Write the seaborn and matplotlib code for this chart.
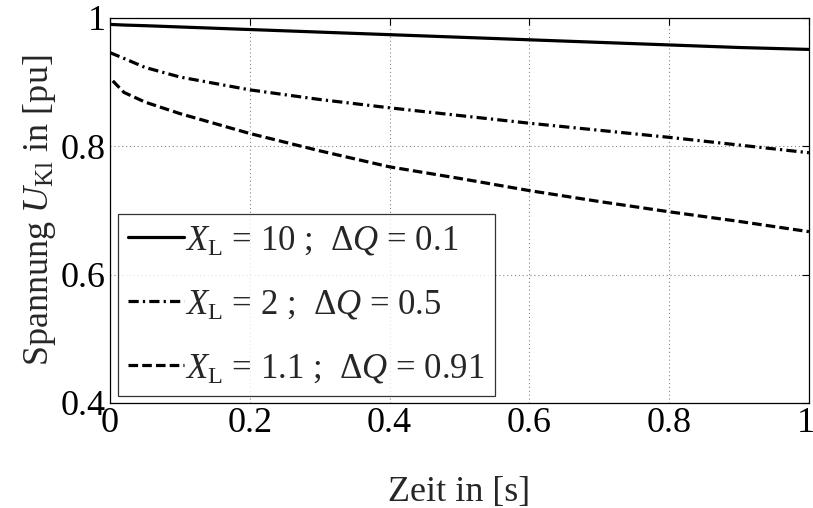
import numpy as np
import pandas as pd
import matplotlib
matplotlib.use("Agg")
import matplotlib.pyplot as plt
import matplotlib.transforms as mtransforms
import seaborn as sns

# ---- data ----
t_main = [0.0, 0.02, 0.05, 0.1, 0.2, 0.3, 0.4, 0.5, 0.6, 0.7, 0.8, 0.9, 1.0]
u_x10 = [0.990, 0.989, 0.988, 0.986, 0.982, 0.978, 0.974, 0.970, 0.966, 0.962, 0.958, 0.954, 0.951]
u_x2 = [0.946, 0.937, 0.923, 0.908, 0.888, 0.873, 0.860, 0.848, 0.836, 0.825, 0.814, 0.802, 0.790]
t_x11 = [0.004, 0.02, 0.05, 0.1, 0.2, 0.3, 0.4, 0.5, 0.6, 0.7, 0.8, 0.9, 1.0]
u_x11 = [0.902, 0.884, 0.869, 0.851, 0.820, 0.793, 0.768, 0.750, 0.731, 0.714, 0.698, 0.683, 0.667]

labels = [r"$X_{\mathrm{L}}$ = 10 ;  $\Delta Q$ = 0.1",
          r"$X_{\mathrm{L}}$ = 2 ;  $\Delta Q$ = 0.5",
          r"$X_{\mathrm{L}}$ = 1.1 ;  $\Delta Q$ = 0.91"]
x_ticks = [0, 0.2, 0.4, 0.6, 0.8, 1]
x_ticklabels = ["0", "0.2", "0.4", "0.6", "0.8", "1"]
y_ticks = [0.4, 0.6, 0.8, 1.0]
y_ticklabels = ["0.4", "0.6", "0.8", "1"]

df = pd.concat([
    pd.DataFrame({"t": t_main, "u": u_x10, "case": labels[0]}),
    pd.DataFrame({"t": t_main, "u": u_x2, "case": labels[1]}),
    pd.DataFrame({"t": t_x11, "u": u_x11, "case": labels[2]}),
], ignore_index=True)

sns.set_style("white")
plt.rcParams["font.family"] = ["Liberation Serif", "DejaVu Serif"]
plt.rcParams["mathtext.fontset"] = "custom"
plt.rcParams["mathtext.rm"] = "Liberation Serif"
plt.rcParams["mathtext.it"] = "Liberation Serif:italic"
plt.rcParams["mathtext.bf"] = "Liberation Serif:bold"

fig = plt.figure(figsize=(8.13, 5.08), dpi=100)
ax = fig.add_axes([0.1353, 0.2067, 0.8597, 0.7579])

dashes = {labels[0]: "", labels[1]: (3.2, 1.3, 0.7, 1.3), labels[2]: (3.0, 1.3)}
sns.lineplot(data=df, x="t", y="u", hue="case", style="case",
             palette=["black"] * 3, dashes=dashes, linewidth=2.3,
             ax=ax, sort=False, estimator=None)

ax.set_xlim(0, 1)
ax.set_ylim(0.4, 1.0)
ax.set_xticks(x_ticks)
ax.set_xticklabels(x_ticklabels)
ax.set_yticks(y_ticks)
ax.set_yticklabels(y_ticklabels)
ax.tick_params(direction="in", top=True, right=True, length=5, width=0.8,
               labelsize=26, colors="black", pad=3)
# nudge the last x tick label so it stays inside the figure
last = ax.get_xticklabels()[-1]
last.set_transform(last.get_transform() +
                   mtransforms.ScaledTranslation(-3 / 100, 0, fig.dpi_scale_trans))
ax.grid(True, linestyle=(0, (1, 2.5)), color="#888888", linewidth=0.8)
for s in ax.spines.values():
    s.set_color("black")
    s.set_linewidth(0.9)

ax.set_xlabel("Zeit in [s]", fontsize=26, labelpad=26)
ax.set_ylabel(r"Spannung $U_{\mathrm{Kl}}$ in [pu]", fontsize=26, labelpad=2)

leg = ax.legend(loc="lower left", bbox_to_anchor=(0.011, 0.018), fontsize=25,
                handlelength=1.6, handletextpad=0.05, borderpad=0.3,
                labelspacing=0.9, frameon=True, fancybox=False,
                borderaxespad=0.0)
leg.get_frame().set_edgecolor("black")
leg.get_frame().set_linewidth(0.9)
for h in leg.get_lines():
    h.set_linewidth(2.3)

fig.savefig("out.png", dpi=100)
